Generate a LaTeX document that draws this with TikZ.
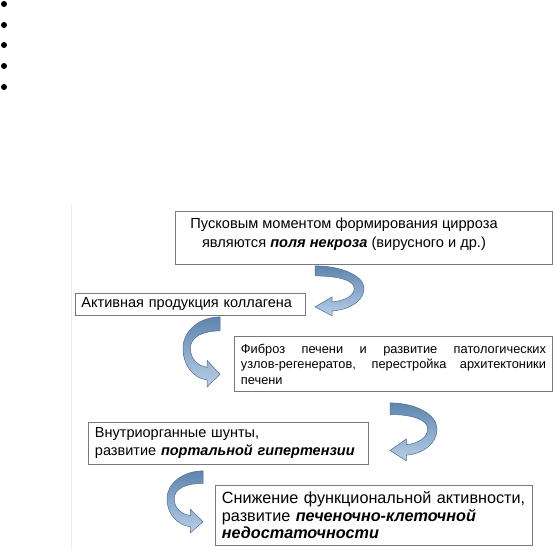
\documentclass[tikz,border=0pt]{standalone}
\usepackage{fontspec}
\setmainfont{Liberation Sans}
\usetikzlibrary{positioning}
\definecolor{boxgray}{HTML}{7A7A7A}
\definecolor{arrowdark}{HTML}{5E84AE}
\definecolor{arrowlight}{HTML}{B7CFE8}
\definecolor{arrowline}{HTML}{4F6E8F}
\newcommand{\bfit}[1]{\textbf{\textit{#1}}}

\tikzset{
    pics/bendarrow/.style={code={
        \path[arrowfill] (0,0) .. controls (0.55,0) and (1,0.2) .. (1,0.45)
            .. controls (1,0.7) and (0.7,0.88) .. (0.35,0.9)
            -- (0.35,1) -- (0,0.82) -- (0.35,0.62) -- (0.35,0.72)
            .. controls (0.6,0.7) and (0.8,0.6) .. (0.8,0.45)
            .. controls (0.8,0.28) and (0.45,0.2) .. (0,0.2) -- cycle;
    }}
}

\begin{document}
\begin{tikzpicture}[
    x=1pt, y=-1pt,
    stage/.style={
        rectangle, draw=boxgray, line width=0.9pt, fill=white,
        anchor=north west, align=left, inner xsep=6pt, inner ysep=0pt
    },
    arrowfill/.style={
        draw=arrowline, line width=0.5pt,
        top color=arrowdark, bottom color=arrowlight
    }
]
\fill[white] (0,0) rectangle (556,551);
\useasboundingbox (0,0) rectangle (556,551);

% empty list bullets
\foreach \y in {4,25,45,66,87}
    \fill (4,\y) circle (3pt);
\draw[black!7, line width=1pt] (71,205) -- (71,551);

\node[stage, minimum width=377pt, minimum height=53pt] (cirr) at (175,211) {};
\node[align=center, font=\fontsize{14.6}{19}\selectfont] (cirrtext) at (344,234)
    {Пусковым моментом формирования цирроза\\являются \bfit{поля некроза} (вирусного и др.)};
\node[stage, minimum width=230pt, minimum height=22pt, text width=218pt,
    font=\fontsize{14.5}{18}\selectfont] (collagen) at (75,293)
    {Активная продукция коллагена};
\node[stage, minimum width=318pt, minimum height=55pt, text width=305pt, align=justify,
    font=\fontsize{12.8}{15.5}\selectfont] (fibrosis) at (234,336)
    {Фиброз печени и развитие патологических\linebreak
     узлов-регенератов, перестройка архитектоники\linebreak печени};
\node[stage, minimum width=280pt, minimum height=42pt, text width=267pt,
    font=\fontsize{14.5}{18}\selectfont] (shunts) at (88,422)
    {Внутриорганные шунты,\\развитие \bfit{портальной гипертензии}};
\node[stage, minimum width=317pt, minimum height=60pt, text width=304pt,
    font=\fontsize{16.2}{17.5}\selectfont] (failure) at (215,485)
    {Снижение функциональной активности,\\развитие \bfit{печеночно-клеточной}\\\bfit{недостаточности}};

\pic[xscale=49, yscale=50] at ([xshift=140pt, yshift=-1pt]cirr.south west) {bendarrow};
\pic[xscale=-37, yscale=70] at ([xshift=145pt, yshift=-1pt]collagen.south west) {bendarrow};
\pic[xscale=47, yscale=58] at ([xshift=156pt, yshift=-11pt]fibrosis.south west) {bendarrow};
\pic[xscale=-36, yscale=62] at ([xshift=115pt, yshift=-6pt]shunts.south west) {bendarrow};
\end{tikzpicture}
\end{document}
